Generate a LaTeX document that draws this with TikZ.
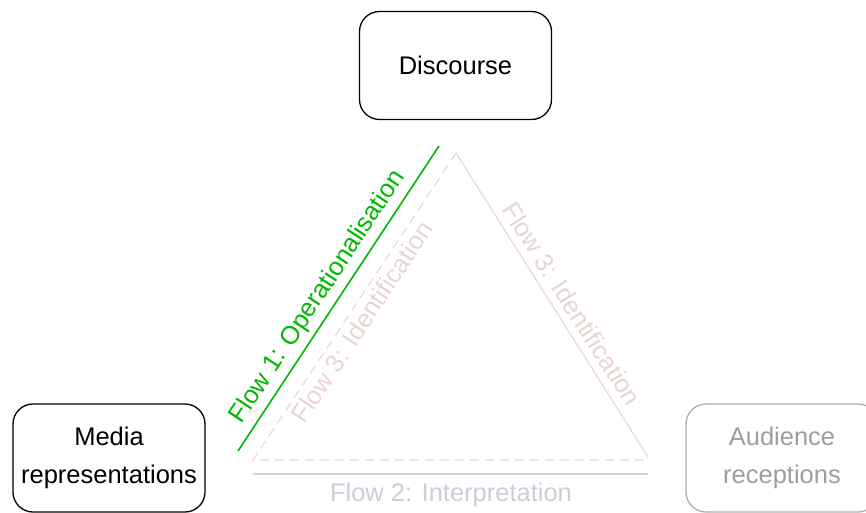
\documentclass[tikz,border=0pt]{standalone}
\usepackage{fontspec}
\setmainfont{Liberation Sans}
\begin{document}
\begin{tikzpicture}[x=1pt,y=-1pt,
  every node/.style={font=\fontsize{25.5}{38.5}\selectfont},
  box/.style={draw, line width=1.3pt, rounded corners=20pt, minimum width=192pt, minimum height=108pt, align=center, inner sep=0pt},
  fadedbox/.style={box, draw=black!32, text=black!38},
  pinkline/.style={draw=red!50!black!16!white, line width=1.2pt},
  pinktext/.style={text=red!50!black!17!white},
  flowone/.style={draw=green!72!black, line width=1.6pt},
  flowtwo/.style={draw=blue!30!black!18!white, line width=2pt},
  flowtwotext/.style={text=blue!30!black!20!white}
]
\useasboundingbox (0,0) rectangle (866,513);
\clip (0,0) rectangle (866,513);

% the three corner boxes
\node[box] (disc) at (455.5,65.5) {Discourse};
\node[box] (media) at (109,458) {\raisebox{-2pt}{\parbox{190pt}{\centering Media\\representations}}};
\node[fadedbox] (aud) at (782,458) {\raisebox{-2pt}{\parbox{190pt}{\centering Audience\\receptions}}};

% triangle between the boxes
\coordinate (top) at (456,153);
\coordinate (bl) at (253,460);
\coordinate (br) at (648,460);
\coordinate (brs) at (648,457);
\draw[pinkline, dash pattern=on 9pt off 6pt] (top) -- (bl) -- (br);
\draw[pinkline] (top) -- (brs);

% flow 1 along the left side
\coordinate (g1) at (238,451);
\coordinate (g2) at (439,146);
\draw[flowone] (g1) -- (g2);
\node[text=green!72!black, rotate=56.5] (f1) at (318,297) {Flow 1: Operationalisation};

% flow 2 along the bottom
\coordinate (b1) at (253,474);
\coordinate (b2) at (648,474);
\draw[flowtwo] (b1) -- (b2);
\node[flowtwotext] (f2) at (451,495) {Flow 2: Interpretation};

% flow 3 labels
\node[pinktext, rotate=56.5] (f3l) at (362,322) {Flow 3: Identification};
\node[pinktext, rotate=-57.5] (f3r) at (572,304) {Flow 3: Identification};
\end{tikzpicture}
\end{document}
